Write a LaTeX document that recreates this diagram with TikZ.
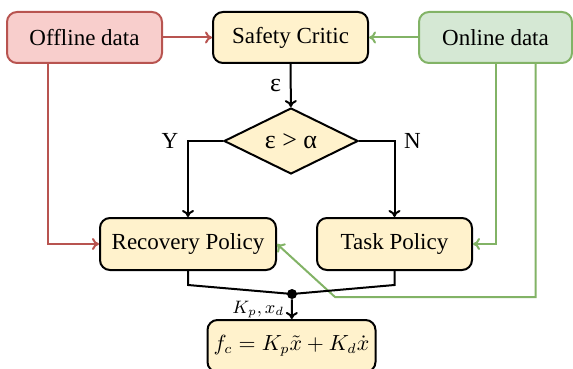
\documentclass[tikz,border=0pt]{standalone}
\usepackage{fontspec}
\setmainfont{Liberation Serif}
\usepackage{tikz}
\usetikzlibrary{shapes.geometric, arrows.meta, positioning, calc}
\definecolor{myred}{RGB}{184,84,80}
\definecolor{mygreen}{RGB}{130,179,102}
\definecolor{hdrred}{RGB}{248,206,204}
\definecolor{hdrgreen}{RGB}{213,232,212}
\definecolor{hdryellow}{RGB}{255,242,204}
\tikzset{
  block/.style={rectangle, draw=black, fill=hdryellow,
    minimum width=77.5pt, minimum height=25.5pt,
    rounded corners=5pt, line width=1pt},
  redblock/.style={block, draw=myred, fill=hdrred},
  greenblock/.style={block, draw=mygreen, fill=hdrgreen},
  decision/.style={diamond, draw=black, fill=hdryellow, aspect=2,
    minimum width=67pt, minimum height=33pt, inner sep=0pt, line width=1pt},
  junction/.style={circle, fill=black, inner sep=0pt, minimum size=5pt},
  arrow/.style={-{To[length=3.5pt,width=6pt]}, line width=1pt, color=black},
  redarrow/.style={arrow, color=myred},
  greenarrow/.style={arrow, color=mygreen},
  line/.style={line width=1pt, color=black}
}

\begin{document}
\begin{tikzpicture}[x=0.5pt, y=-0.5pt, font=\fontsize{11.5}{14}\selectfont]
  \useasboundingbox (0,0) rectangle (573,369);
  % Data sources
  \node[redblock] (offline) at (84.5,37.5) {Offline data};
  \node[greenblock, minimum width=76.5pt] (online) at (495.5,37.5) {Online data};
  % Critic and decision
  \node[block] (critic) at (290.5,37.5) {Safety Critic};
  \node[decision] (check) at (291,141) {\fontsize{13}{14}\selectfont ε > α};
  % Policies
  \node[block, minimum width=88pt, minimum height=26pt] (recovery) at (188,244) {Recovery Policy};
  \node[block, minimum height=26pt] (task) at (394.5,244) {Task Policy};
  % Controller
  \node[junction] (junc) at (292,294) {};
  \node[block, minimum width=84pt, minimum height=26pt, inner sep=2pt,
    font=\fontsize{10.5}{12}\selectfont] (ctrl) at (291.5,346) {$f_c = K_p\tilde{x} + K_d\dot{x}$};

  % Arrows
  \draw[redarrow] (offline) -- (critic);
  \draw[greenarrow] (online) -- (critic);
  \draw[arrow] (critic) -- node[left, xshift=-1pt] {\fontsize{13}{14}\selectfont ε} (check);
  \draw[arrow] (check.west) -| node[pos=0.5, left, xshift=-1pt] {Y} (recovery.north);
  \draw[arrow] (check.east) -| node[pos=0.5, right, xshift=1pt] {N} (task.north);
  \draw[redarrow] ([xshift=-18.5pt]offline.south) |- (recovery.west);
  \draw[greenarrow] (online.south) |- (task.east);
  \coordinate (bend) at (335,297);
  \draw[greenarrow] ([xshift=20pt]online.south) |- (bend) -- (recovery.east);
  \draw[line] (recovery.south) -- ++(0,14) -- (junc.center);
  \draw[line] (task.south) -- ++(0,14) -- (junc.center);
  \draw[arrow] (junc) -- node[left, font=\small] {$K_p, x_d$} (ctrl);
\end{tikzpicture}
\end{document}
